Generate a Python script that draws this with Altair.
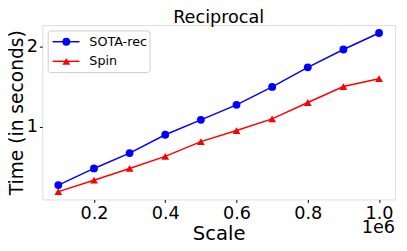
import altair as alt
import pandas as pd

scales = [100000, 200000, 300000, 400000, 500000, 600000, 700000, 800000, 900000, 1000000]
sota_rec = [0.266, 0.475, 0.668, 0.898, 1.086, 1.274, 1.50, 1.746, 1.97, 2.177]
spin = [0.184, 0.327, 0.475, 0.627, 0.812, 0.951, 1.098, 1.304, 1.504, 1.603]
series_names = ["SOTA-rec", "Spin"]
series_colors = ["#0000ff", "#ff0000"]
series_shapes = ["circle", "triangle-up"]
x_ticks = [200000, 400000, 600000, 800000, 1000000]
y_ticks = [1, 2]
title_text = "Reciprocal"

FONT = "DejaVu Sans"
W, H = 360, 178

rows = []
for s, a, b in zip(scales, sota_rec, spin):
    rows.append({"scale": s, "time": a, "series": "SOTA-rec"})
    rows.append({"scale": s, "time": b, "series": "Spin"})
df = pd.DataFrame(rows)

xenc = alt.X("scale:Q",
             scale=alt.Scale(domain=[55000, 1045000], nice=False, zero=False),
             axis=alt.Axis(values=x_ticks, labelExpr="format(datum.value/1e6, '.1f')",
                           title="Scale", grid=False, domain=False,
                           tickSize=3, labelPadding=2, titlePadding=2,
                           labelFontSize=18, titleFontSize=20,
                           labelFont=FONT, titleFont=FONT,
                           titleFontWeight="normal", labelColor="black",
                           titleColor="black", tickColor="black"))
yenc = alt.Y("time:Q",
             scale=alt.Scale(domain=[0.085, 2.277], nice=False, zero=False),
             axis=alt.Axis(values=y_ticks, format="d", title="Time (in seconds)",
                           grid=False, domain=False, tickSize=3, labelPadding=2,
                           titlePadding=0, labelFontSize=18, titleFontSize=19,
                           labelFont=FONT, titleFont=FONT, titleFontWeight="normal",
                           labelColor="black", titleColor="black", tickColor="black"))
cenc = alt.Color("series:N", scale=alt.Scale(domain=series_names, range=series_colors), legend=None)
senc = alt.Shape("series:N", scale=alt.Scale(domain=series_names, range=series_shapes), legend=None)

base = alt.Chart(df)
lines = base.mark_line(strokeWidth=1.5).encode(x=xenc, y=yenc, color=cenc, detail="series:N")
points = base.mark_point(filled=True, size=64, opacity=1).encode(x=xenc, y=yenc, color=cenc, shape=senc)

title_mark = alt.Chart(pd.DataFrame({"t": [title_text]})).mark_text(
    align="center", baseline="alphabetic", fontSize=18, font=FONT, color="black"
).encode(x=alt.value(W / 2), y=alt.value(-2), text="t:N")

offset_txt = alt.Chart(pd.DataFrame({"t": ["1e6"]})).mark_text(
    align="right", baseline="alphabetic", fontSize=18, font=FONT, color="black"
).encode(x=alt.value(W), y=alt.value(212), text="t:N")

# legend
leg_box = alt.Chart(pd.DataFrame({"a": [0]})).mark_rect(
    fill="white", fillOpacity=0.8, stroke="#cccccc", strokeWidth=1, cornerRadius=3
).encode(x=alt.value(6), x2=alt.value(110), y=alt.value(6), y2=alt.value(48.5))

legend_layers = [leg_box]
row_y = [17, 37]
for name, col, shp, yy in zip(series_names, series_colors, series_shapes, row_y):
    d = pd.DataFrame({"name": [name]})
    legend_layers.append(alt.Chart(d).mark_rule(color=col, strokeWidth=1.5).encode(
        x=alt.value(10.5), x2=alt.value(38), y=alt.value(yy)))
    legend_layers.append(alt.Chart(d).mark_point(filled=True, size=64, color=col, shape=shp, opacity=1).encode(
        x=alt.value(24.5), y=alt.value(yy)))
    legend_layers.append(alt.Chart(d).mark_text(align="left", baseline="middle", fontSize=13, font=FONT, color="black").encode(
        x=alt.value(48), y=alt.value(yy), text="name:N"))

chart = alt.layer(lines, points, title_mark, offset_txt, *legend_layers).properties(
    width=W, height=H,
    autosize=alt.AutoSizeParams(type="none"),
    padding={"left": 35, "top": 15, "right": 4, "bottom": 42},
).configure_view(stroke="black", strokeWidth=1).configure(background="white")

chart.save("out.html", embed_options={"renderer": "svg", "actions": False})
